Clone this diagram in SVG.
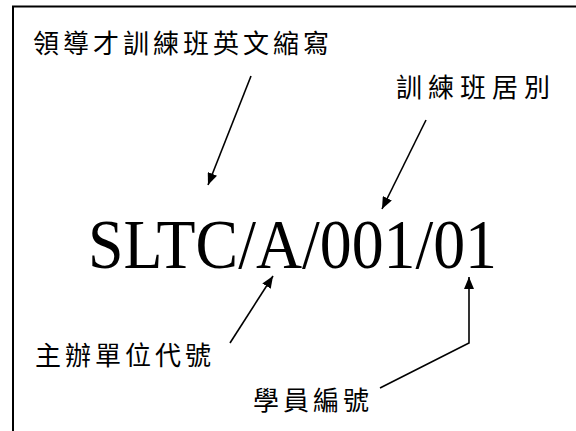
<svg xmlns="http://www.w3.org/2000/svg" width="576" height="431" viewBox="0 0 576 431">
<style>
.cjk{font-family:"Noto Sans CJK TC","Noto Sans CJK SC",sans-serif;font-size:26px;letter-spacing:4px;fill:#000}
.code{font-family:"Liberation Serif","Times New Roman",serif;font-size:69px;fill:#000}
.conn{fill:none;stroke:#000;stroke-width:1.6}
</style>
<defs>
<marker id="ah" viewBox="0 0 12 10" refX="12" refY="5" markerWidth="12" markerHeight="10" markerUnits="userSpaceOnUse" orient="auto">
<path d="M0,0 L12,5 L0,10 Z" fill="#000"/>
</marker>
</defs>
<rect width="576" height="431" fill="#fff"/>
<path d="M13,432 V6.5 H577" fill="none" stroke="#000" stroke-width="2"/>
<g id="title"><text class="cjk" x="33" y="53">領導才訓練班英文縮寫</text></g>
<g id="session"><text class="cjk" x="396" y="97" style="letter-spacing:6px">訓練班居別</text></g>
<g id="code"><text class="code" x="88" y="268" textLength="409" lengthAdjust="spacingAndGlyphs">SLTC/A/001/01</text></g>
<g id="unit"><text class="cjk" x="35" y="365">主辦單位代號</text></g>
<g id="student"><text class="cjk" x="253" y="410">學員編號</text></g>
<g id="connectors">
<line class="conn" x1="251" y1="76" x2="208" y2="185" marker-end="url(#ah)"/>
<line class="conn" x1="426" y1="120" x2="382" y2="209" marker-end="url(#ah)"/>
<line class="conn" x1="230" y1="343" x2="273" y2="276" marker-end="url(#ah)"/>
<polyline class="conn" points="380,388 469,343 469,277" marker-end="url(#ah)"/>
</g>
</svg>
